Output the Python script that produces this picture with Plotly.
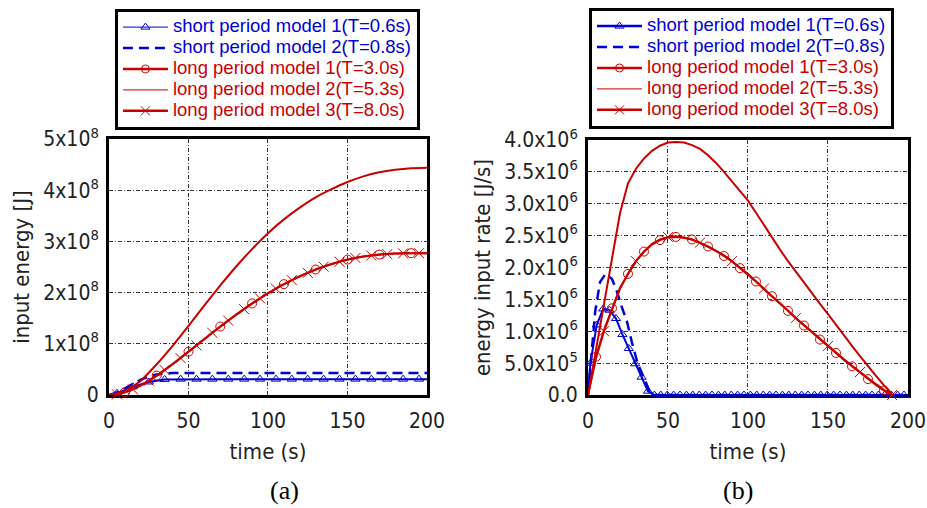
import plotly.graph_objects as go

RED = '#C80000'
BLUE = '#0000D2'
NARROW = 'DejaVu Sans Condensed, Liberation Sans Narrow, sans-serif'
SANS = 'Liberation Sans, Arial, sans-serif'
SERIF = 'Liberation Serif, Times New Roman, serif'
TXT = '#222222'

# ---------------- panel (a): input energy [J] (values in 1e8 J) ----------------
t_a_long = [0, 5, 10, 15, 20, 25, 30, 35, 40, 45, 50, 55, 60, 65, 70, 75, 80, 85, 90, 95, 100,
            105, 110, 115, 120, 125, 130, 135, 140, 145, 150, 155, 160, 165, 170, 175, 180, 185, 190, 195, 200]
E_lp1 = [0, 0.015, 0.055, 0.115, 0.19, 0.28, 0.38, 0.49, 0.605, 0.725, 0.847,
         0.97, 1.095, 1.218, 1.338, 1.456, 1.571, 1.682, 1.789, 1.89, 1.988,
         2.08, 2.165, 2.245, 2.32, 2.388, 2.451, 2.508, 2.56, 2.605, 2.645,
         2.678, 2.705, 2.727, 2.743, 2.755, 2.763, 2.768, 2.77, 2.77, 2.77]
E_lp3 = [0, 0.014, 0.053, 0.113, 0.188, 0.277, 0.377, 0.487, 0.602, 0.722, 0.845,
         0.968, 1.092, 1.215, 1.335, 1.452, 1.567, 1.678, 1.785, 1.887, 1.985,
         2.077, 2.163, 2.243, 2.318, 2.386, 2.449, 2.506, 2.557, 2.602, 2.642,
         2.676, 2.703, 2.725, 2.741, 2.753, 2.762, 2.767, 2.769, 2.77, 2.77]
t_a_lp2 = [0, 10, 20, 30, 40, 50, 60, 70, 80, 90, 100, 110, 120, 130, 140, 150, 160, 170, 180, 190, 200]
E_lp2 = [0, 0.07, 0.28, 0.6, 0.96, 1.35, 1.75, 2.14, 2.51, 2.85, 3.16,
         3.43, 3.66, 3.86, 4.02, 4.16, 4.27, 4.35, 4.40, 4.43, 4.44]
t_a_sp1 = [0, 5, 15, 25, 35, 45, 55, 65, 75, 85, 95, 105, 115, 125, 135, 145, 155, 165, 175, 185, 195, 200]
E_sp1 = [0, 0.035, 0.16, 0.255, 0.305, 0.31, 0.31, 0.31, 0.31, 0.31, 0.31,
         0.31, 0.31, 0.31, 0.31, 0.31, 0.31, 0.31, 0.31, 0.31, 0.31, 0.31]
t_a_sp2 = [0, 5, 10, 15, 20, 25, 30, 35, 40, 200]
E_sp2 = [0, 0.05, 0.13, 0.22, 0.30, 0.36, 0.40, 0.42, 0.43, 0.43]

a_yticks = [0, 1, 2, 3, 4, 5]
a_yticktext = ['0', '1x10<sup>8</sup>', '2x10<sup>8</sup>', '3x10<sup>8</sup>', '4x10<sup>8</sup>', '5x10<sup>8</sup>']

# ---------------- panel (b): energy input rate [J/s] (values in 1e6 J/s) ----------------
t_b_long = [0, 5, 10, 15, 20, 25, 30, 35, 40, 45, 50, 55, 60, 65, 70, 75, 80, 85, 90, 95, 100,
            105, 110, 115, 120, 125, 130, 135, 140, 145, 150, 155, 160, 165, 170, 175, 180, 185, 190]
R_lp1 = [0, 0.6, 1.02, 1.36, 1.68, 1.9, 2.1, 2.25, 2.36, 2.43, 2.47,
         2.48, 2.47, 2.44, 2.39, 2.33, 2.26, 2.18, 2.1, 1.99, 1.89,
         1.78, 1.66, 1.55, 1.43, 1.32, 1.2, 1.09, 0.98, 0.87, 0.76,
         0.66, 0.55, 0.45, 0.35, 0.25, 0.16, 0.07, 0.0]
R_lp3 = [0, 0.58, 1.0, 1.35, 1.67, 1.9, 2.1, 2.25, 2.37, 2.44, 2.48,
         2.49, 2.47, 2.44, 2.39, 2.33, 2.26, 2.19, 2.1, 2.0, 1.9,
         1.78, 1.67, 1.55, 1.44, 1.32, 1.21, 1.1, 0.99, 0.88, 0.77,
         0.66, 0.56, 0.46, 0.36, 0.26, 0.17, 0.08, 0.0]
R_lp2 = [0, 0.72, 1.45, 2.15, 2.85, 3.32, 3.55, 3.71, 3.83, 3.91, 3.96,
         3.97, 3.96, 3.92, 3.86, 3.76, 3.64, 3.5, 3.35, 3.2, 3.05,
         2.86, 2.66, 2.47, 2.28, 2.1, 1.93, 1.76, 1.6, 1.43, 1.27,
         1.1, 0.93, 0.77, 0.61, 0.45, 0.3, 0.15, 0.02]
t_b_sp1 = [0, 1.5, 5.5, 9.5, 13.5, 17.5, 21.5, 25.5, 29.5, 33.5, 37.5, 41.5, 45.5, 49.5, 53.5, 57.5,
           61.5, 65.5, 69.5, 73.5, 77.5, 81.5, 85.5, 89.5, 93.5, 97.5, 101.5, 105.5, 109.5, 113.5,
           117.5, 121.5, 125.5, 129.5, 133.5, 137.5, 141.5, 145.5, 149.5, 153.5, 157.5, 161.5,
           165.5, 169.5, 173.5, 177.5, 181.5, 185.5, 189.5, 193.5, 197.5, 200]
R_sp1 = [0, 0.5, 1.1, 1.35, 1.33, 1.2, 0.95, 0.73, 0.49, 0.28, 0.06, 0, 0, 0, 0, 0,
         0, 0, 0, 0, 0, 0, 0, 0, 0, 0, 0, 0, 0, 0,
         0, 0, 0, 0, 0, 0, 0, 0, 0, 0, 0, 0,
         0, 0, 0, 0, 0, 0, 0, 0, 0, 0]
t_b_sp2 = [0, 2.5, 4.5, 7.5, 11, 15, 18, 21, 24.5, 27.5, 31, 35.5, 39.5, 200]
R_sp2 = [0, 0.71, 1.31, 1.77, 1.9, 1.82, 1.63, 1.39, 1.14, 0.82, 0.5, 0.24, 0, 0]

b_yticks = [0, 0.5, 1.0, 1.5, 2.0, 2.5, 3.0, 3.5, 4.0]
b_yticktext = ['0.0', '5.0x10<sup>5</sup>', '1.0x10<sup>6</sup>', '1.5x10<sup>6</sup>', '2.0x10<sup>6</sup>',
               '2.5x10<sup>6</sup>', '3.0x10<sup>6</sup>', '3.5x10<sup>6</sup>', '4.0x10<sup>6</sup>']

x_ticks = [0, 50, 100, 150, 200]

names = ['short period model 1(T=0.6s)', 'short period model 2(T=0.8s)',
         'long period model 1(T=3.0s)', 'long period model 2(T=5.3s)', 'long period model 3(T=8.0s)']

S = 1e8
R = 1e6

fig = go.Figure()


def line(x, y, xa, ya, color, width, dash='solid', shape='linear'):
    fig.add_trace(go.Scatter(x=x, y=y, xaxis=xa, yaxis=ya, mode='lines', showlegend=False,
                             line=dict(color=color, width=width, dash=dash, shape=shape, smoothing=0.4),
                             hoverinfo='skip'))


def marks(x, y, xa, ya, color, symbol, size, lw=1):
    fig.add_trace(go.Scatter(x=x, y=y, xaxis=xa, yaxis=ya, mode='markers', showlegend=False,
                             cliponaxis=False,
                             marker=dict(color=color, symbol=symbol, size=size, line=dict(color=color, width=lw)),
                             hoverinfo='skip'))


# ---- panel (a) ----
ea1 = [v * S for v in E_lp1]
ea3 = [v * S for v in E_lp3]
ea2 = [v * S for v in E_lp2]
es1 = [v * S for v in E_sp1]
es2 = [v * S for v in E_sp2]
line(t_a_sp2, es2, 'x', 'y', BLUE, 2.5, dash='10px,6px')
line(t_a_sp1, es1, 'x', 'y', BLUE, 2)
marks(t_a_sp1[1:-1], es1[1:-1], 'x', 'y', BLUE, 'triangle-up-open', 8)
line(t_a_lp2, ea2, 'x', 'y', RED, 2, shape='spline')
line(t_a_long, ea1, 'x', 'y', RED, 2, shape='spline')
line(t_a_long, ea3, 'x', 'y', RED, 2, shape='spline')
marks(t_a_long[2::4], ea1[2::4], 'x', 'y', RED, 'circle-open', 9)
marks(t_a_long[1::2], ea3[1::2], 'x', 'y', RED, 'x-thin-open', 10)

# ---- panel (b) ----
rb1 = [v * R for v in R_lp1]
rb3 = [v * R for v in R_lp3]
rb2 = [v * R for v in R_lp2]
rs1 = [v * R for v in R_sp1]
rs2 = [v * R for v in R_sp2]
line(t_b_sp2, rs2, 'x2', 'y2', BLUE, 2.5, dash='10px,6px')
line(t_b_sp1, rs1, 'x2', 'y2', BLUE, 2)
marks(t_b_sp1[1:-1], rs1[1:-1], 'x2', 'y2', BLUE, 'triangle-up-open', 8)
line(t_b_long, rb2, 'x2', 'y2', RED, 2)
line(t_b_long, rb1, 'x2', 'y2', RED, 2)
line(t_b_long, rb3, 'x2', 'y2', RED, 2)
marks(t_b_long[1::2], rb1[1::2], 'x2', 'y2', RED, 'circle-open', 9)
marks(t_b_long[2::4], rb3[2::4], 'x2', 'y2', RED, 'x-thin-open', 10)

# ---- legend entries ----
legend_styles = [
    (BLUE, dict(width=1), dict(symbol='triangle-up-open', size=8)),
    (BLUE, dict(width=2.5, dash='10px,6px'), None),
    (RED, dict(width=2.5), dict(symbol='circle-open', size=8)),
    (RED, dict(width=1), None),
    (RED, dict(width=2.5), dict(symbol='x-thin-open', size=9)),
]
legend_styles_b = [
    (BLUE, dict(width=2.5), dict(symbol='triangle-up-open', size=8)),
    (BLUE, dict(width=2.5, dash='10px,6px'), None),
    (RED, dict(width=2.5), dict(symbol='circle-open', size=8)),
    (RED, dict(width=1), None),
    (RED, dict(width=2.5), dict(symbol='x-thin-open', size=9)),
]
for lg, styles, xa, ya in (('legend', legend_styles, 'x', 'y'), ('legend2', legend_styles_b, 'x2', 'y2')):
    for name, (col, ln, mk) in zip(names, styles):
        ln = dict(ln, color=col)
        tr = dict(x=[None], y=[None], xaxis=xa, yaxis=ya, legend=lg,
                  name='<span style="color:%s;font-size:18.5px">%s</span>' % (col, name), line=ln)
        if mk:
            tr['mode'] = 'lines+markers'
            tr['marker'] = dict(mk, color=col, line=dict(color=col, width=1))
        else:
            tr['mode'] = 'lines'
        fig.add_trace(go.Scatter(**tr))

axis_common = dict(showline=True, linecolor='black', linewidth=3, mirror=True, ticks='',
                   showgrid=True, gridcolor='#333333', gridwidth=1, griddash='4px,2px,1px,2px',
                   zeroline=False, layer='below traces', automargin=False,
                   tickfont=dict(family=NARROW, size=21, color=TXT))
title_font = dict(family=NARROW, size=22, color=TXT)

legend_common = dict(xanchor='left', yanchor='top', bgcolor='white',
                     bordercolor='black', borderwidth=3, itemwidth=45,
                     font=dict(family=SANS, size=13.8), tracegroupgap=0)

fig.update_layout(
    width=927, height=508, margin=dict(l=0, r=0, t=0, b=0),
    paper_bgcolor='white', plot_bgcolor='white',
    xaxis=dict(axis_common, domain=[0.1176, 0.4606], range=[0, 200], tickvals=x_ticks, anchor='y',
               ticklabelstandoff=5,
               title=dict(text='time (s)', font=title_font, standoff=12)),
    yaxis=dict(axis_common, domain=[0.2224, 0.7264], range=[0, 5 * S], anchor='x',
               ticklabelstandoff=3,
               tickvals=[v * S for v in a_yticks], ticktext=a_yticktext,
               title=dict(text='input energy [J]', font=title_font, standoff=8)),
    xaxis2=dict(axis_common, domain=[0.6343, 0.9795], range=[0, 200], tickvals=x_ticks, anchor='y2',
                ticklabelstandoff=5,
                title=dict(text='time (s)', font=title_font, standoff=12)),
    yaxis2=dict(axis_common, domain=[0.2224, 0.7244], range=[0, 4 * R], anchor='x2',
                ticklabelstandoff=3,
                tickvals=[v * R for v in b_yticks], ticktext=b_yticktext,
                title=dict(text='energy input rate [J/s]', font=title_font, standoff=8)),
    legend=dict(legend_common, x=0.124, y=0.983),
    legend2=dict(legend_common, x=0.6354, y=0.985),
    annotations=[
        dict(text='(a)', x=0.289, y=0.035, xref='paper', yref='paper', yanchor='middle', showarrow=False,
             font=dict(family=SERIF, size=26, color='black')),
        dict(text='(b)', x=0.8145, y=0.035, xref='paper', yref='paper', yanchor='middle', showarrow=False,
             font=dict(family=SERIF, size=26, color='black')),
    ],
)

fig.write_html('out.html')
